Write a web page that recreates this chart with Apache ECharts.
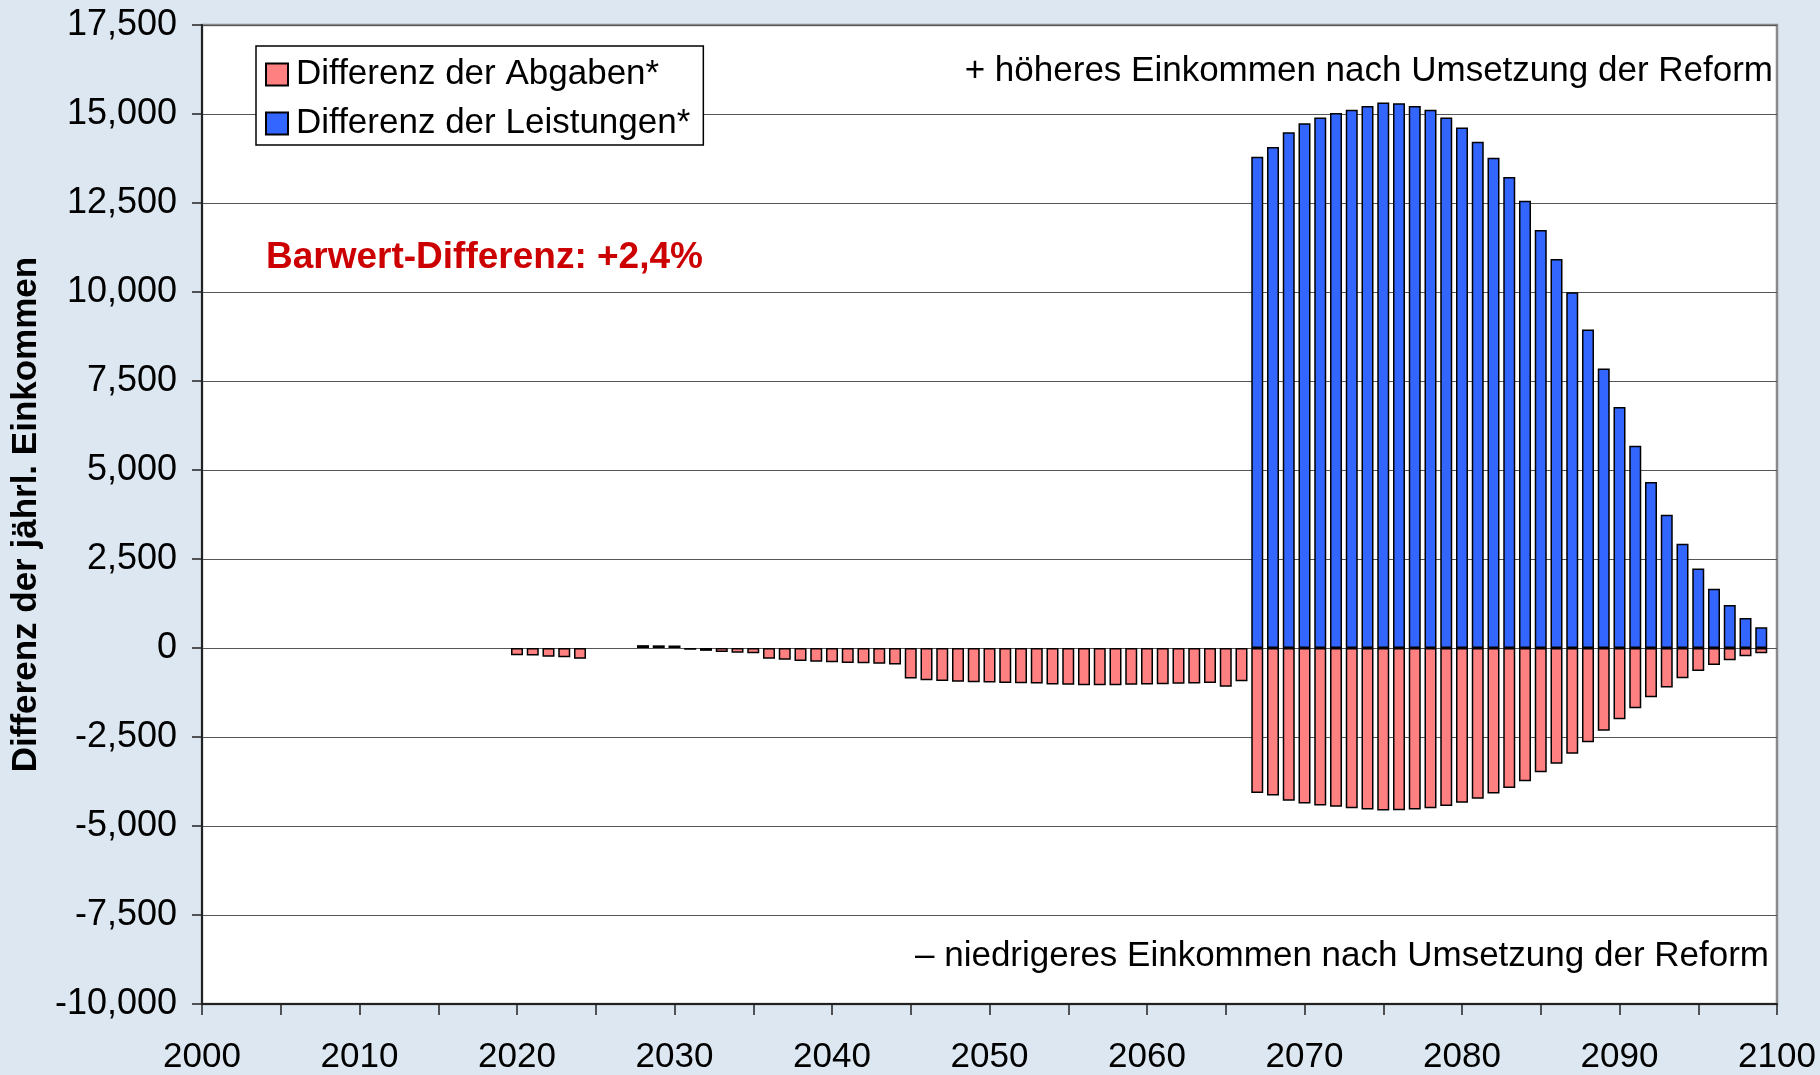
<!DOCTYPE html>
<html>
<head>
<meta charset="utf-8">
<script src="https://cdn.jsdelivr.net/npm/echarts@6/dist/echarts.min.js"></script>
<style>
  html, body { margin: 0; padding: 0; background: #dce7f1; }
  #chart { width: 1820px; height: 1075px; }
</style>
</head>
<body>
<div id="chart"></div>
<script>
// Jahre 2020 .. 2099
const years = Array.from({ length: 80 }, (_, i) => 2020 + i)

// Differenz der Abgaben* (2020 .. 2099)
const abgaben = [
  -205, -210, -245, -260, -305, null, null, null, 80, 75,
  70, -50, -80, -110, -130, -150, -300, -330, -365, -385,
  -400, -420, -430, -440, -465, -860, -905, -925, -950, -960,
  -970, -980, -990, -1000, -1025, -1035, -1045, -1045, -1045, -1035,
  -1025, -1015, -1005, -1000, -980, -1090, -935, -4070, -4145, -4290,
  -4370, -4425, -4460, -4500, -4535, -4565, -4555, -4535, -4500, -4440,
  -4350, -4235, -4090, -3935, -3740, -3490, -3250, -2970, -2650, -2325,
  -2000, -1690, -1380, -1110, -850, -645, -475, -345, -230, -150
]

// Differenz der Leistungen* (2067 .. 2099)
const leistungenStart = 2067
const leistungen = [
  13800, 14070, 14490, 14740, 14900, 15030, 15120, 15225, 15320, 15300,
  15225, 15120, 14900, 14620, 14220, 13770, 13230, 12565, 11745, 10925,
  9990, 8945, 7850, 6770, 5680, 4660, 3745, 2925, 2235, 1665,
  1205, 845, 580
]

const yTicks = { min: -10000, max: 17500, step: 2500 }
const xTicks = { min: 2000, max: 2100, step: 5 }

const font = "'Liberation Sans', Arial, sans-serif"

const abgabenData = years.map((y, i) => [y, abgaben[i]])
const leistungenData = years.map((y) => {
  const k = y - leistungenStart
  return [y, k >= 0 ? leistungen[k] : null]
})

const chartBox = echarts.init(document.getElementById('chart'))

const option = {
  backgroundColor: '#dce7f1',
  animation: false,
  textStyle: { fontFamily: font },
  grid: {
    left: 202,
    right: 43,
    top: 25,
    bottom: 70,
    show: true,
    backgroundColor: '#ffffff',
    borderColor: '#8a8a8a',
    borderWidth: 2.5
  },
  legend: {
    left: 256,
    top: 46,
    orient: 'vertical',
    itemWidth: 22,
    itemHeight: 22,
    itemGap: 14,
    padding: [11, 13, 4, 9],
    backgroundColor: '#ffffff',
    borderColor: '#000000',
    borderWidth: 1.5,
    borderRadius: 0,
    textStyle: { fontSize: 35, color: '#000', fontFamily: font, lineHeight: 35, padding: [0, 0, 0, 3] },
    data: [
      { name: 'Differenz der Abgaben*', icon: 'rect' },
      { name: 'Differenz der Leistungen*', icon: 'rect' }
    ]
  },
  xAxis: {
    type: 'value',
    min: xTicks.min,
    max: xTicks.max,
    interval: xTicks.step,
    axisLine: { show: true, onZero: false, lineStyle: { color: '#222', width: 2 } },
    axisTick: { show: true, inside: false, length: 11, lineStyle: { color: '#222', width: 1.5 } },
    axisLabel: {
      fontSize: 35,
      color: '#000',
      margin: 36,
      showMinLabel: true,
      showMaxLabel: true,
      formatter: function (v) {
        return v % 10 === 0 ? String(v) : ''
      }
    },
    splitLine: { show: false }
  },
  yAxis: {
    type: 'value',
    min: yTicks.min,
    max: yTicks.max,
    interval: yTicks.step,
    name: 'Differenz der jährl. Einkommen',
    nameLocation: 'middle',
    nameRotate: 90,
    nameGap: 150,
    nameTextStyle: { fontSize: 35, fontWeight: 'bold', color: '#000', fontFamily: font },
    axisLine: { show: true, lineStyle: { color: '#222', width: 2 } },
    axisTick: { show: true, inside: false, length: 10, lineStyle: { color: '#222', width: 1.5 } },
    axisLabel: {
      fontSize: 36,
      color: '#000',
      margin: 25,
      formatter: function (v) {
        return v.toLocaleString('en-US')
      }
    },
    splitLine: { show: true, lineStyle: { color: '#555', width: 1.2 } }
  },
  series: [
    {
      name: 'Differenz der Abgaben*',
      type: 'bar',
      stack: 'diff',
      barWidth: 12,
      itemStyle: { color: '#ff8080', borderColor: '#000', borderWidth: 1.5 },
      data: abgabenData
    },
    {
      name: 'Differenz der Leistungen*',
      type: 'bar',
      stack: 'diff',
      barWidth: 12,
      itemStyle: { color: '#3366ff', borderColor: '#000', borderWidth: 1.5 },
      data: leistungenData
    }
  ],
  graphic: [
    {
      type: 'text',
      left: 266,
      top: 239,
      style: {
        text: 'Barwert-Differenz: +2,4%',
        fill: '#cc0000',
        font: 'bold 37px ' + font
      }
    },
    {
      type: 'text',
      right: 47,
      top: 54,
      style: {
        text: '+ höheres Einkommen nach Umsetzung der Reform',
        fill: '#000',
        font: '35px ' + font
      }
    },
    {
      type: 'text',
      right: 51,
      top: 939,
      style: {
        text: '– niedrigeres Einkommen nach Umsetzung der Reform',
        fill: '#000',
        font: '35px ' + font
      }
    }
  ]
}

chartBox.setOption(option, true)
window.addEventListener('resize', function () {
  chartBox.resize()
})
</script>
</body>
</html>
